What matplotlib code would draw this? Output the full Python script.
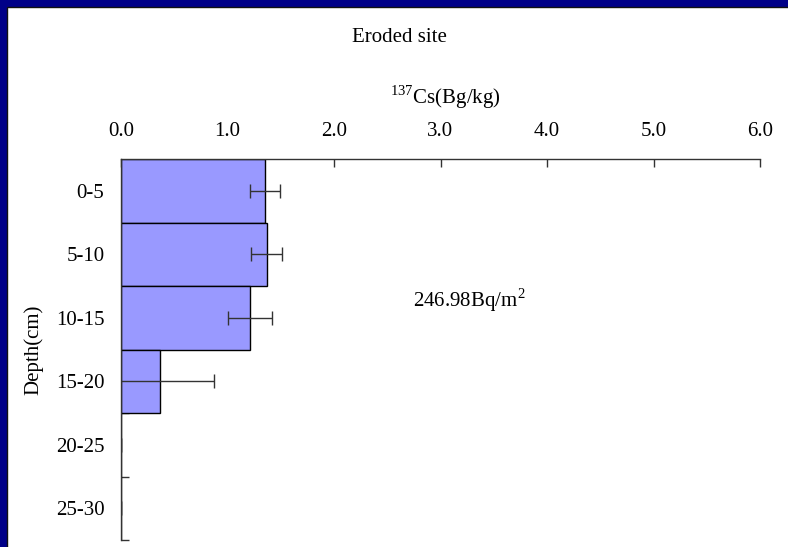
import numpy as np
import matplotlib.pyplot as plt
from matplotlib.patches import Rectangle

depths = ['0-5', '5-10', '10-15', '15-20', '20-25', '25-30']
cs137 = [1.35, 1.37, 1.21, 0.37, 0.0, 0.0]
cs137_err = [0.14, 0.145, 0.205, 0.50, 0.0, 0.0]
xticks = [0.0, 1.0, 2.0, 3.0, 4.0, 5.0, 6.0]
inventory = '246.98Bq/m$^2$'

plt.rcParams['font.family'] = ['Liberation Serif', 'DejaVu Serif']
plt.rcParams['mathtext.fontset'] = 'custom'
plt.rcParams['mathtext.rm'] = 'Liberation Serif'
fs = 15

fig = plt.figure(figsize=(7.88, 5.47), dpi=100, facecolor='#000088')
# white panel inside the navy frame
fig.patches.append(Rectangle((7 / 788, -0.01), 1, 1.01 - 7 / 547, transform=fig.transFigure,
                             facecolor='white', edgecolor='#111111', linewidth=1.0, zorder=-1))

ax = fig.add_axes([121 / 788, 7 / 547, (760 - 121) / 788, (540 - 159) / 547])
ax.set_facecolor('none')
ax.set_zorder(2)

y = np.arange(len(depths))
ax.barh(y, cs137, height=1.0, color='#9999FF', edgecolor='black', linewidth=1.0, zorder=2)
ax.errorbar(cs137, y, xerr=cs137_err, fmt='none', ecolor='#333333', elinewidth=1.0,
            capsize=5, capthick=1.0, zorder=3)

ax.set_xlim(0, 6)
ax.set_ylim(len(depths) - 0.5, -0.5)

ax.xaxis.tick_top()
ax.set_xticks(xticks)
ax.set_xticklabels(['%.1f' % v for v in xticks])
ax.tick_params(axis='x', direction='in', length=6, width=1, labelsize=fs, pad=13, color='#333333')
ax.set_yticks(y)
ax.set_yticklabels(depths)
ax.set_yticks(np.arange(len(depths)) + 0.5, minor=True)
ax.tick_params(axis='y', which='major', length=0, labelsize=fs, pad=12)
ax.tick_params(axis='y', which='minor', direction='in', length=6, width=1, color='#333333')

for s in ['right', 'bottom']:
    ax.spines[s].set_visible(False)
for s in ['left', 'top']:
    ax.spines[s].set_color('#333333')
    ax.spines[s].set_linewidth(1.0)

fig.text(399 / 788, 1 - 37 / 547, 'Eroded site', ha='center', va='center', fontsize=fs)
fig.text(445 / 788, 1 - 97 / 547, '$^{137}$Cs(Bg/kg)', ha='center', va='center', fontsize=fs)
fig.text(34 / 788, 1 - 350 / 547, 'Depth(cm)', ha='center', va='center', rotation=90, fontsize=fs)
fig.text(413 / 788, 1 - 300 / 547, inventory, ha='left', va='center', fontsize=fs)

fig.savefig('out.png', dpi=100, facecolor=fig.get_facecolor())
